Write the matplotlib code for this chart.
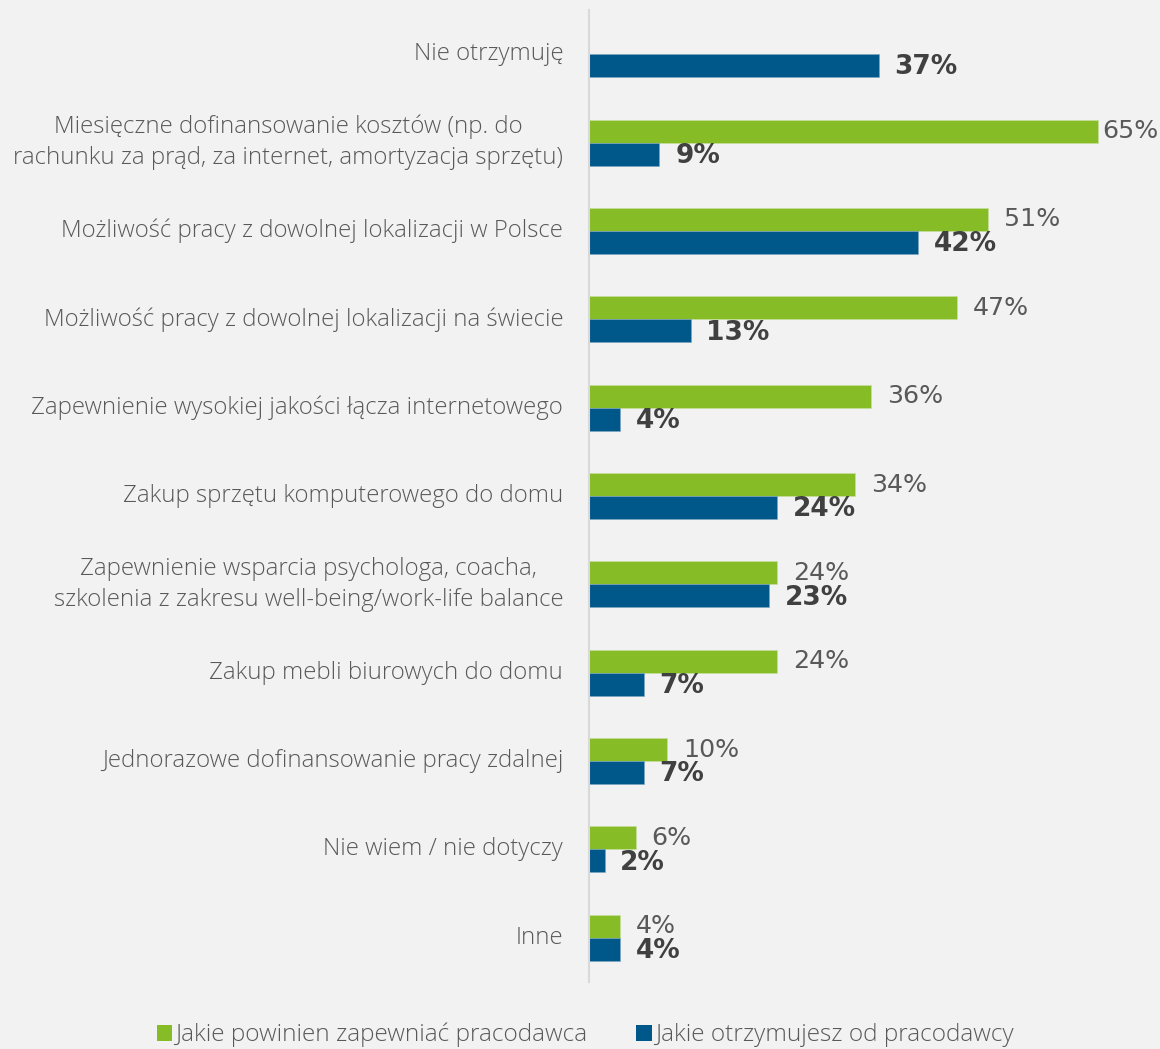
import numpy as np
import matplotlib.pyplot as plt
from matplotlib import font_manager as fm
from matplotlib.patches import Patch


def open_sans(filename, size):
    # pick the exact Open Sans file, so the condensed cut is never used
    for f in fm.fontManager.ttflist:
        if f.fname.endswith(filename):
            return fm.FontProperties(fname=f.fname, size=size)
    return fm.FontProperties(family="Open Sans", size=size)


categories = [
    "Nie otrzymuję",
    "Miesięczne dofinansowanie kosztów (np. do\nrachunku za prąd, za internet, amortyzacja sprzętu)",
    "Możliwość pracy z dowolnej lokalizacji w Polsce",
    "Możliwość pracy z dowolnej lokalizacji na świecie",
    "Zapewnienie wysokiej jakości łącza internetowego",
    "Zakup sprzętu komputerowego do domu",
    "Zapewnienie wsparcia psychologa, coacha,\nszkolenia z zakresu well-being/work-life balance",
    "Zakup mebli biurowych do domu",
    "Jednorazowe dofinansowanie pracy zdalnej",
    "Nie wiem / nie dotyczy",
    "Inne",
]
should_provide = [None, 65, 51, 47, 36, 34, 24, 24, 10, 6, 4]
receive = [37, 9, 42, 13, 4, 24, 23, 7, 7, 2, 4]
series_names = ["Jakie powinien zapewniać pracodawca", "Jakie otrzymujesz od pracodawcy"]

GREEN = "#86bc25"
BLUE = "#00578a"
BG = "#f2f2f2"
LABEL = "#595959"
VALUE = "#404040"

light = open_sans("OpenSans-Light.ttf", 17.3)
legend_font = open_sans("OpenSans-Light.ttf", 17.6)
val_reg = fm.FontProperties(family="DejaVu Sans", size=18.2)
val_bold = fm.FontProperties(family="DejaVu Sans", weight="bold", size=19)

fig = plt.figure(figsize=(11.6, 10.49), dpi=100, facecolor=BG)
ax = fig.add_axes([589 / 1160, 1 - 982 / 1049, 571 / 1160, 972 / 1049])
ax.set_facecolor(BG)

XMAX = 72.9
h = 0.26
off = 0.13
pad = 2.0

for i, (g, b) in enumerate(zip(should_provide, receive)):
    if g is not None:
        ax.barh(i - off, g, height=h, color=GREEN, edgecolor="#c8dfa0", linewidth=0.4)
        # keep the longest label inside the figure
        if g + pad + 7 > XMAX:
            ax.text(XMAX - 0.2, i - off, f"{g}%", va="center", ha="right",
                    fontproperties=val_reg, color=LABEL, clip_on=False)
        else:
            ax.text(g + pad, i - off, f"{g}%", va="center", ha="left",
                    fontproperties=val_reg, color=LABEL, clip_on=False)
    ax.barh(i + off, b, height=h, color=BLUE, edgecolor="#7fa6c2", linewidth=0.4)
    ax.text(b + pad, i + off + 0.02, f"{b}%", va="center", ha="left", fontproperties=val_bold,
            color=VALUE, clip_on=False)

ax.set_xlim(0, XMAX)
ax.set_ylim(len(categories) - 0.5, -0.5)

for i, cat in enumerate(categories):
    ax.text(-3.3, i, cat, ha="right", va="center", multialignment="center",
            fontproperties=light, color=LABEL, linespacing=1.4)

for s in ["top", "right", "bottom"]:
    ax.spines[s].set_visible(False)
ax.spines["left"].set_color("#d9d9d9")
ax.spines["left"].set_linewidth(1.5)
ax.set_xticks([])
ax.set_yticks([])

handles = [Patch(facecolor=GREEN), Patch(facecolor=BLUE)]
fig.legend(handles, series_names, loc="center", bbox_to_anchor=(0.5045, 1 - 1035 / 1049),
           ncol=2, frameon=False, handlelength=0.65, handleheight=0.65, handletextpad=0.12,
           columnspacing=2.0, prop=legend_font, labelcolor=LABEL)

fig.savefig("out.png", dpi=100, facecolor=BG)
